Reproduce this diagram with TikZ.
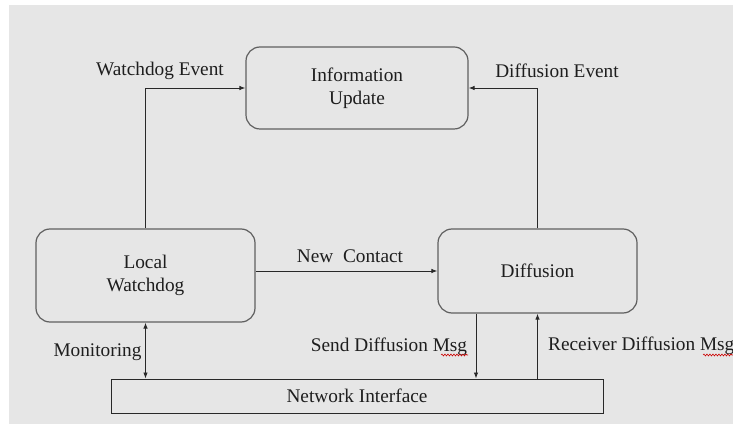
\documentclass[tikz,border=0pt]{standalone}
\usepackage{fontspec}
\setmainfont{Liberation Serif}
\usetikzlibrary{arrows.meta,decorations.pathmorphing}
\definecolor{bg}{RGB}{230,230,230}
\definecolor{boxgray}{RGB}{95,95,95}
\definecolor{linec}{RGB}{40,40,40}
\definecolor{txt}{RGB}{30,30,30}
\begin{document}
\begin{tikzpicture}[x=1pt,y=-1pt,
  box/.style={draw=boxgray,line width=1.2pt,rounded corners=14pt,fill=bg,inner sep=0pt,align=center,
    font=\fontsize{19.3}{23}\selectfont,text=txt},
  plainbox/.style={draw=linec,line width=1pt,fill=bg,inner sep=0pt,
    font=\fontsize{19.3}{23}\selectfont,text=txt},
  lbl/.style={font=\fontsize{19.3}{23}\selectfont,inner sep=0pt,text=txt},
  arr/.style={draw=linec,line width=0.9pt,-{Latex[length=6pt,width=4.5pt]}},
  darr/.style={draw=linec,line width=0.9pt,{Latex[length=6pt,width=4.5pt]}-{Latex[length=6pt,width=4.5pt]}},
  squig/.style={draw=red!80!black,line width=0.6pt,decorate,decoration={snake,segment length=3pt,amplitude=0.9pt}}
]
\useasboundingbox (0,0) rectangle (733,427);
\fill[white] (0,0) rectangle (733,427);
\fill[bg] (9,5) rectangle (733,424);

\node[box,minimum width=222pt,minimum height=82pt] (iu) at (357,88) {Information\\Update};
\node[box,minimum width=219pt,minimum height=93pt] (lw) at (145.5,275.5) {Local\\Watchdog};
\node[box,minimum width=199pt,minimum height=84pt] (df) at (537.5,271) {Diffusion};
\node[plainbox,minimum width=492pt,minimum height=34pt] (ni) at (357,396) {Network Interface};

\draw[arr] (lw.north) |- (iu.west);
\draw[arr] (df.north) |- (iu.east);
\draw[arr] (lw.east |- df.west) -- (df.west);
\draw[darr] (lw.south) -- (lw.south |- ni.north);
\draw[arr] ([xshift=-61.5pt]df.south) -- ([xshift=-61.5pt]df.south |- ni.north);
\draw[arr] (df.south |- ni.north) -- (df.south);

\node[lbl] (lwe) at (160,71) {Watchdog Event};
\node[lbl] (lde) at (557,71) {Diffusion Event};
\node[lbl] (lnc) at (350,256) {New~ Contact};
\node[lbl] (lmo) at (97.5,352) {Monitoring};
\node[lbl] (lsd) at (389,347) {Send Diffusion Msg};
\node[lbl,anchor=west] (lrd) at (548,346) {Receiver Diffusion Msg};

\draw[squig] (441,355) -- (468,355);
\draw[squig] (703,355) -- (733,355);
\end{tikzpicture}
\end{document}
